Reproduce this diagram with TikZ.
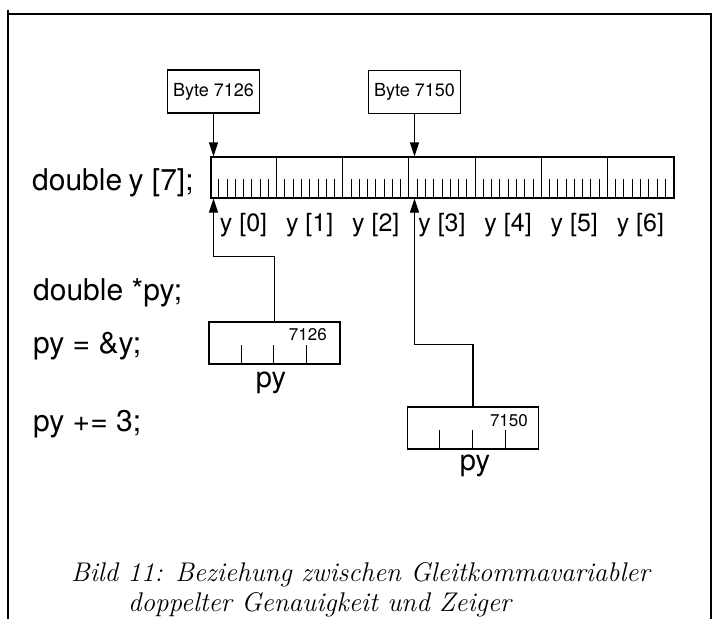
\documentclass[tikz,border=0pt]{standalone}
\usepackage{fontspec}
\newfontfamily\hv{TeX Gyre Heros}
\usetikzlibrary{arrows.meta}
\begin{document}
\begin{tikzpicture}[x=1pt,y=-1pt,
  frame/.style={line width=1.6pt},
  box/.style={draw,line width=1.1pt,rectangle,inner sep=0pt},
  bytebox/.style={box,minimum width=92pt,minimum height=43pt,font=\hv\fontsize{18}{19}\selectfont},
  ptrbox/.style={box,minimum width=131pt,minimum height=42pt},
  ptr/.style={line width=1.1pt,-{Triangle[length=14pt,width=9pt]}},
  thin/.style={line width=1pt},
  code/.style={anchor=base west,inner sep=0pt,font=\hv\fontsize{30}{31}\selectfont},
  elem/.style={anchor=base,inner sep=0pt,font=\hv\fontsize{25}{26}\selectfont},
  addr/.style={anchor=base east,inner sep=0pt,font=\hv\fontsize{17}{18}\selectfont},
  varname/.style={anchor=base,inner sep=0pt,font=\hv\fontsize{29}{30}\selectfont},
  caption/.style={anchor=base west,inner sep=0pt,font=\itshape\fontsize{27}{28}\selectfont}]
\useasboundingbox (0,0) rectangle (714,619);

% outer frame, open at the bottom
\draw[frame] (8,619) -- (8,10);
\draw[frame] (8,14) -- (711,14) -- (711,619);

% source lines
\node[code] (c1) at (32,190) {double\hspace{-2pt} y [7];};
\node[code] (c2) at (33,300) {double *py;};
\node[code] (c3) at (33,353) {py = \&y;};
\node[code] (c4) at (33,431) {py += 3;};

% the array of seven doubles, eight bytes each
\node[box,minimum width=463pt,minimum height=41pt] (arr) at (442.5,177.5) {};
\begin{scope}[shift={(arr.south west)}]
  \foreach \i in {0,...,6} {
    \ifnum\i>0 \draw[thin] ({\i*463/7},0) -- ({\i*463/7},-41); \fi
    \foreach \j in {1,...,7}
      \draw[line width=0.8pt] ({\i*463/7+\j*463/56},0) -- ({\i*463/7+\j*463/56},-20);
    \node[elem] (e\i) at ({(\i+0.5)*463/7},33) {y [\i]};
  }
\end{scope}

% byte addresses
\node[bytebox] (b1) at (213.5,91.5) {Byte 7126};
\node[bytebox] (b2) at (414.5,92) {Byte 7150};
\draw[ptr] (b1.south) -- (b1.south |- arr.north);
\draw[ptr] (b2.south) -- (b2.south |- arr.north);

% pointer variable py, four bytes
\node[ptrbox] (p1) at (274.5,343) {};
\node[ptrbox] (p2) at (473,428) {};
\foreach \p in {p1,p2} {
  \begin{scope}[shift={(\p.south west)}]
    \foreach \k in {1,2,3}
      \draw[line width=1pt] ({\k*131/4},0) -- ({\k*131/4},-20);
  \end{scope}
}
\node[addr] (v1) at (327,340) {7126};
\node[addr] (v2) at (528,426) {7150};
\node[varname] (n1) at (271,387) {py};
\node[varname] (n2) at (475,470) {py};

% where py points
\coordinate (t0) at (b1.south |- arr.south);
\coordinate (t3) at (b2.south |- arr.south);
\draw[ptr] (p1.north) -- ++(0,-65) -| (t0);
\draw[ptr] (p2.north) -- ++(0,-62) -| (t3);

% caption
\node[caption] (cap1) at (71,581) {Bild 11: Beziehung zwischen Gleitkommavariabler};
\node[caption] (cap2) at (128,611) {doppelter Genauigkeit und Zeiger};
\end{tikzpicture}
\end{document}
